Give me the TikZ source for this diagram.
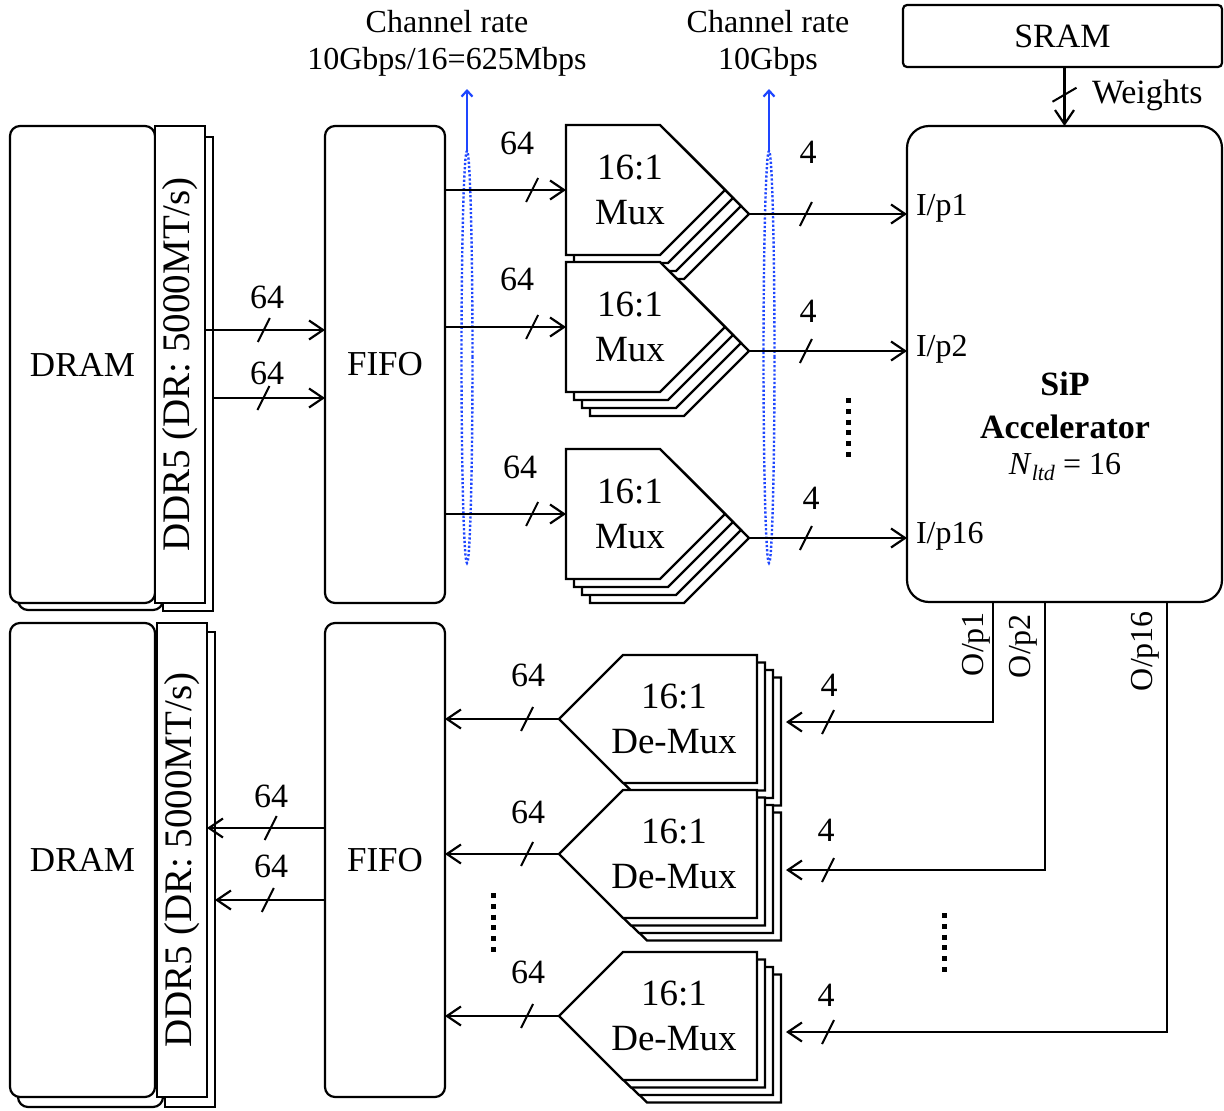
\documentclass[tikz,border=0pt]{standalone}
\usepackage{fontspec}
\setmainfont{Liberation Serif}
\usetikzlibrary{arrows.meta,decorations.markings,shapes.geometric}
\definecolor{myblue}{RGB}{30,70,255}
\begin{document}
\begin{tikzpicture}[x=1pt,y=-1pt,
  every node/.style={inner sep=0pt, outer sep=0pt},
  rbx/.style={draw, line width=2.2pt, fill=white, anchor=north west},
  rrbx/.style={rbx, rounded corners=10pt},
  arr/.style={line width=2.2pt, -{Straight Barb[length=14pt,width=19pt]}},
  bus/.style={postaction={decorate}, decoration={markings, mark=at position #1 with {\draw[-, line width=2pt] (-6pt,-12pt) -- (6pt,12pt);}}},
  busv/.style={postaction={decorate}, decoration={markings, mark=at position #1 with {\draw[-, line width=2pt] (7pt,-12pt) -- (-7pt,12pt);}}},
  shp/.style={draw, line width=2.2pt, fill=white, line join=miter},
  ell/.style={draw=myblue, ellipse, line width=2.4pt, dash pattern=on 2.2pt off 2pt, minimum width=11pt, minimum height=412pt},
  bluearr/.style={draw=myblue, line width=2.2pt, -{Straight Barb[length=6pt,width=11pt]}},
  vd/.style={line width=5pt, dash pattern=on 5pt off 5.8pt},
  tbig/.style={font=\fontsize{35}{42}\selectfont},
  tmux/.style={font=\fontsize{37}{45}\selectfont, align=center},
  tddr/.style={font=\fontsize{39}{44}\selectfont},
  tnum/.style={font=\fontsize{34}{40}\selectfont},
  tsm/.style={font=\fontsize{32}{37}\selectfont},
  tcr/.style={font=\fontsize{32}{37}\selectfont, align=center}
]
\useasboundingbox (0,0) rectangle (1224,1111);

% ---------- top memory ----------
\node[rbx, minimum width=50pt, minimum height=474pt] (ddr1b) at (163,137) {};
\node[rrbx, minimum width=145pt, minimum height=477pt] (dram1b) at (18,133) {};
\node[rrbx, minimum width=145pt, minimum height=477pt, tbig] (dram1) at (10,126) {DRAM};
\node[rbx, minimum width=50pt, minimum height=477pt] (ddr1) at (155,126) {};
\node[rotate=90, tddr] (ddr1t) at (ddr1.center) {DDR5 (DR: 5000MT/s)};
\node[rrbx, minimum width=120pt, minimum height=477pt, tbig] (fifo1) at (325,126) {FIFO};

% ---------- bottom memory ----------
\node[rbx, minimum width=50pt, minimum height=475pt] (ddr2b) at (165,632) {};
\node[rrbx, minimum width=145pt, minimum height=476pt] (dram2b) at (18,631) {};
\node[rrbx, minimum width=145pt, minimum height=474pt, tbig] (dram2) at (10,623) {DRAM};
\node[rbx, minimum width=50pt, minimum height=474pt] (ddr2) at (157,623) {};
\node[rotate=90, tddr] (ddr2t) at (ddr2.center) {DDR5 (DR: 5000MT/s)};
\node[rrbx, minimum width=120pt, minimum height=474pt, tbig] (fifo2) at (325,623) {FIFO};

% row helpers
\coordinate (r1) at (0,330);
\coordinate (r2) at (0,398);
\coordinate (r5) at (0,828);
\coordinate (r6) at (0,900);

\draw[arr, bus=0.49] (ddr1.east |- r1) -- (fifo1.west |- r1);
\draw[arr, bus=0.45] (ddr1b.east |- r2) -- (fifo1.west |- r2);
\node[tnum] (l64a) at (267,297) {64};
\node[tnum] (l64b) at (267,373) {64};

\draw[arr, bus=0.46] (fifo2.west |- r5) -- (ddr2.east |- r5);
\draw[arr, bus=0.52] (fifo2.west |- r6) -- (ddr2b.east |- r6);
\node[tnum] (l64c) at (271,796) {64};
\node[tnum] (l64d) at (271,866) {64};

% ---------- accelerator & SRAM ----------
\node[rbx, rounded corners=22pt, minimum width=315pt, minimum height=476pt] (acc) at (907,126) {};
\node[font=\fontsize{34}{43}\selectfont\bfseries, align=center] (acct) at (1065,405) {SiP\\Accelerator};
\node[font=\fontsize{32}{37}\selectfont] (nltd) at (1065,467) {\textit{N}{\fontsize{22}{22}\selectfont\raisebox{-6pt}{\textit{ltd}}} = 16};
\node[anchor=west, tsm] (ip1) at (916,208) {I/p1};
\node[anchor=west, tsm] (ip2) at (916,349) {I/p2};
\node[anchor=west, tsm] (ip16) at (916,536) {I/p16};

\node[rbx, rounded corners=4pt, minimum width=319pt, minimum height=62pt, font=\fontsize{34}{40}\selectfont] (sram) at (903,5) {SRAM};
\draw[arr, busv=0.47] (sram.south -| acc.north) -- (acc.north);
\node[anchor=west, tnum] (wts) at (1092,95) {Weights};

% ---------- channel rates ----------
\node[tcr] (cr1) at (447,43) {Channel rate\\10Gbps/16=625Mbps};
\node[tcr] (cr2) at (768,43) {Channel rate\\10Gbps};
\node[ell] (el1) at (467,357) {};
\node[ell] (el2) at (769,357) {};
\draw[bluearr] (el1.north) -- ++(0,-62);
\draw[bluearr] (el2.north) -- ++(0,-62);

% ---------- muxes ----------
\foreach \i/\T in {1/125,2/262,3/449}{
  \foreach \k in {3,2,1}{
    \draw[shp, shift={(8*\k,8*\k)}] (566,\T) -- (660,\T) -- (725,\T+65) -- (660,\T+130) -- (566,\T+130) -- cycle;
  }
  \draw[shp] (566,\T) -- (660,\T) -- (725,\T+65) -- (660,\T+130) -- (566,\T+130) -- cycle;
  \node[minimum width=159pt, minimum height=130pt, anchor=north west] (mux\i) at (566,\T) {};
  \node[tmux] (mux\i t) at (630,\T+65) {16:1\\Mux};
  \coordinate (mux\i o) at (749,\T+89);
  \draw[arr, bus=0.72] (fifo1.east |- mux\i.west) -- (mux\i.west);
  \draw[arr, bus=0.36] (mux\i o) -- (mux\i o -| acc.west);
}
\node[tnum] (n64a) at (517,143) {64};
\node[tnum] (n64b) at (517,279) {64};
\node[tnum] (n64c) at (520,467) {64};
\node[tnum] (n4a) at (808,152) {4};
\node[tnum] (n4b) at (808,311) {4};
\node[tnum] (n4c) at (811,498) {4};
\draw[vd] (848,398) -- (848,458);

% ---------- de-muxes ----------
\foreach \i/\C in {1/719,2/854,3/1016}{
  \foreach \k in {3,2,1}{
    \draw[shp, shift={(8*\k,7.5*\k)}] (559,\C) -- (623,\C-64) -- (757,\C-64) -- (757,\C+64) -- (623,\C+64) -- cycle;
  }
  \draw[shp] (559,\C) -- (623,\C-64) -- (757,\C-64) -- (757,\C+64) -- (623,\C+64) -- cycle;
  \node[minimum width=198pt, minimum height=128pt, anchor=north west] (dm\i) at (559,\C-64) {};
  \node[tmux] (dm\i t) at (674,\C) {16:1\\De-Mux};
  \draw[arr, bus=0.28] (dm\i.west) -- (dm\i.west -| fifo2.east);
}
\coordinate (dm1in) at (786,722);
\coordinate (dm2in) at (786,870);
\coordinate (dm3in) at (786,1032);
\draw[arr, bus=-42pt] ([xshift=86pt]acc.south west) |- (dm1in);
\draw[arr, bus=-42pt] ([xshift=138pt]acc.south west) |- (dm2in);
\draw[arr, bus=-42pt] ([xshift=260pt]acc.south west) |- (dm3in);
\node[rotate=90, tsm] (op1) at (976,644) {O/p1};
\node[rotate=90, tsm] (op2) at (1023,646) {O/p2};
\node[rotate=90, tsm] (op16) at (1145,651) {O/p16};

\node[tnum] (d64a) at (528,675) {64};
\node[tnum] (d64b) at (528,812) {64};
\node[tnum] (d64c) at (528,972) {64};
\node[tnum] (d4a) at (829,685) {4};
\node[tnum] (d4b) at (826,830) {4};
\node[tnum] (d4c) at (826,995) {4};
\draw[vd] (493,893) -- (493,953);
\draw[vd] (944,913) -- (944,973);
\end{tikzpicture}
\end{document}
